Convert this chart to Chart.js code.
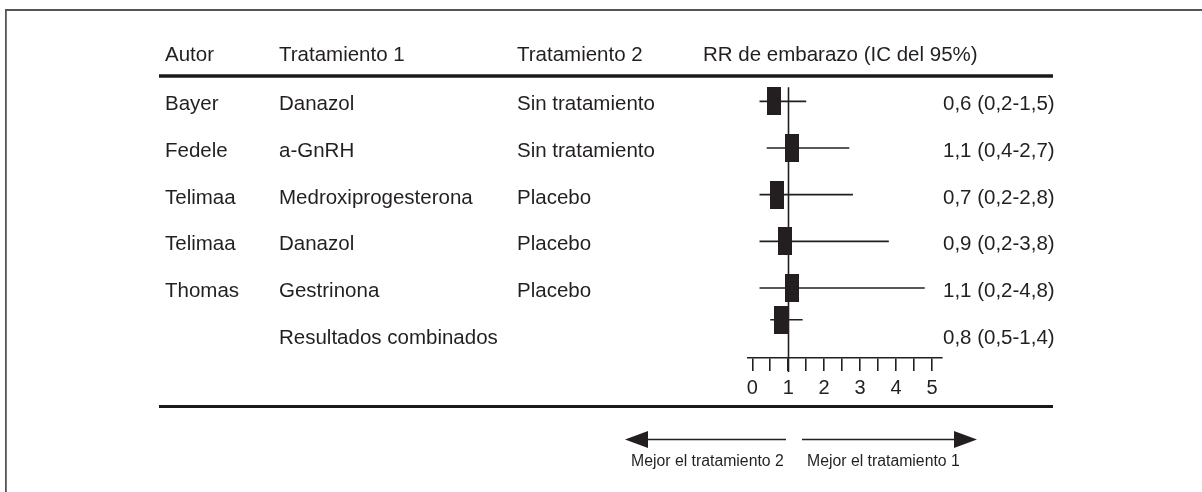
<!DOCTYPE html>
<html lang="es">
<head>
<meta charset="utf-8">
<title>RR de embarazo (IC del 95%)</title>
<script src="https://cdn.jsdelivr.net/npm/chart.js@4/dist/chart.umd.min.js"></script>
<style>
  html, body { margin: 0; padding: 0; background: #ffffff; }
  #wrap { position: relative; width: 1202px; height: 492px; }
</style>
</head>
<body>
<div id="wrap"><canvas id="forest"></canvas></div>
<script>
// Studies included in the meta-analysis (last row = pooled estimate)
const authors    = ['Bayer', 'Fedele', 'Telimaa', 'Telimaa', 'Thomas', ''];
const treatment1 = ['Danazol', 'a-GnRH', 'Medroxiprogesterona', 'Danazol', 'Gestrinona', 'Resultados combinados'];
const treatment2 = ['Sin tratamiento', 'Sin tratamiento', 'Placebo', 'Placebo', 'Placebo', ''];
const rr     = [0.6, 1.1, 0.7, 0.9, 1.1, 0.8];
const ciLow  = [0.2, 0.4, 0.2, 0.2, 0.2, 0.5];
const ciHigh = [1.5, 2.7, 2.8, 3.8, 4.8, 1.4];

// Axis
const axisTicks   = [0, 0.5, 1, 1.5, 2, 2.5, 3, 3.5, 4, 4.5, 5];
const axisLabels  = [0, 1, 2, 3, 4, 5];
const headers     = ['Autor', 'Tratamiento 1', 'Tratamiento 2', 'RR de embarazo (IC del 95%)'];
const arrowLabels = ['Mejor el tratamiento 2', 'Mejor el tratamiento 1'];
const noEffect = 1;

// Layout / style
const INK = '#231f20';
const FONT = '"Liberation Sans", Arial, Helvetica, sans-serif';
const POOLED_SHIFT = -0.32;          // pooled marker sits slightly above its text row
const pooledIndex = rr.length - 1;
const markerRow = i => i === pooledIndex ? i + POOLED_SHIFT : i;

const fmt = v => v.toFixed(1).replace('.', ',');
const estimateText = rr.map((v, i) => `${fmt(v)} (${fmt(ciLow[i])}-${fmt(ciHigh[i])})`);

// Rectangular marker used for the point estimates
const box = document.createElement('canvas');
box.width = 14; box.height = 28;
(function () { const c = box.getContext('2d'); c.fillStyle = INK; c.fillRect(0, 0, 14, 28); })();

const ciDatasets = rr.map((_, i) => ({
  type: 'line',
  data: [{ x: ciLow[i], y: markerRow(i) }, { x: ciHigh[i], y: markerRow(i) }],
  borderColor: INK,
  borderWidth: 1.6,
  pointRadius: 0,
  order: 2
}));

const pointDataset = {
  type: 'scatter',
  data: rr.map((v, i) => ({ x: v, y: markerRow(i) })),
  pointStyle: box,
  pointRadius: 7,
  order: 1
};

const tablePlugin = {
  id: 'forestTable',
  beforeDraw(chart) {
    const ctx = chart.ctx;
    ctx.save();
    ctx.fillStyle = '#ffffff';
    ctx.fillRect(0, 0, chart.width, chart.height);
    // outer frame
    ctx.strokeStyle = '#555555';
    ctx.lineWidth = 1.8;
    ctx.beginPath();
    ctx.moveTo(5.9, chart.height);
    ctx.lineTo(5.9, 10);
    ctx.lineTo(chart.width, 10);
    ctx.stroke();
    ctx.restore();
  },
  beforeDatasetsDraw(chart) {
    const ctx = chart.ctx, xs = chart.scales.x, ys = chart.scales.y;
    const x1 = Math.round(xs.getPixelForValue(noEffect)) + 0.5;
    ctx.save();
    ctx.strokeStyle = INK;
    ctx.lineWidth = 1.6;
    ctx.beginPath();
    ctx.moveTo(x1, ys.getPixelForValue(0) - 14);
    ctx.lineTo(x1, chart.chartArea.bottom + 14);
    ctx.stroke();
    ctx.restore();
  },
  afterDraw(chart) {
    const ctx = chart.ctx, ys = chart.scales.y;
    const cols = [165, 279, 517, 703];
    ctx.save();
    ctx.fillStyle = INK;
    ctx.textBaseline = 'alphabetic';
    ctx.textAlign = 'left';
    ctx.font = `20.5px ${FONT}`;
    headers.forEach((h, k) => ctx.fillText(h, cols[k], 61));
    rr.forEach((_, i) => {
      const yb = ys.getPixelForValue(i) + 9;
      ctx.fillText(authors[i], cols[0], yb);
      ctx.fillText(treatment1[i], cols[1], yb);
      ctx.fillText(treatment2[i], cols[2], yb);
      ctx.fillText(estimateText[i], 943, yb);
    });
    // header and footer rules
    ctx.strokeStyle = '#1a1a1a';
    ctx.lineWidth = 3.4;
    ctx.beginPath();
    ctx.moveTo(159, 76); ctx.lineTo(1053, 76);
    ctx.stroke();
    ctx.lineWidth = 3;
    ctx.beginPath();
    ctx.moveTo(159, 406.5); ctx.lineTo(1053, 406.5);
    ctx.stroke();
    // direction arrows
    const ay = 439.5;
    ctx.lineWidth = 1.6;
    ctx.strokeStyle = INK;
    ctx.beginPath();
    ctx.moveTo(646, ay); ctx.lineTo(786, ay);
    ctx.moveTo(802, ay); ctx.lineTo(956, ay);
    ctx.stroke();
    ctx.beginPath();
    ctx.moveTo(625, ay); ctx.lineTo(648, ay - 8.5); ctx.lineTo(648, ay + 8.5); ctx.closePath();
    ctx.moveTo(977, ay); ctx.lineTo(954, ay - 8.5); ctx.lineTo(954, ay + 8.5); ctx.closePath();
    ctx.fill();
    ctx.font = `15.8px ${FONT}`;
    ctx.fillText(arrowLabels[0], 631, 466);
    ctx.fillText(arrowLabels[1], 807, 466);
    ctx.restore();
  }
};

new Chart(document.getElementById('forest'), {
  type: 'scatter',
  data: { datasets: [pointDataset, ...ciDatasets] },
  options: {
    responsive: true,
    maintainAspectRatio: false,
    animation: false,
    events: [],
    layout: { padding: { left: 748, right: 260, top: 78, bottom: 94 } },
    plugins: { legend: { display: false }, tooltip: { enabled: false } },
    scales: {
      x: {
        type: 'linear',
        min: -0.12,
        max: 5.28,
        afterBuildTicks(scale) { scale.ticks = axisTicks.map(v => ({ value: v })); },
        afterFit(scale) { scale.height = 40; },
        ticks: {
          autoSkip: false,
          maxRotation: 0,
          padding: 5,
          color: INK,
          font: { family: FONT, size: 20 },
          callback: v => axisLabels.includes(v) ? String(v) : ''
        },
        grid: {
          drawOnChartArea: false,
          drawTicks: true,
          tickLength: 13,
          lineWidth: 1.6,
          color: INK
        },
        border: { display: true, width: 1.6, color: INK }
      },
      y: {
        type: 'linear',
        display: false,
        reverse: true,
        min: -0.5,
        max: 5.5
      }
    }
  },
  plugins: [tablePlugin]
});
</script>
</body>
</html>
